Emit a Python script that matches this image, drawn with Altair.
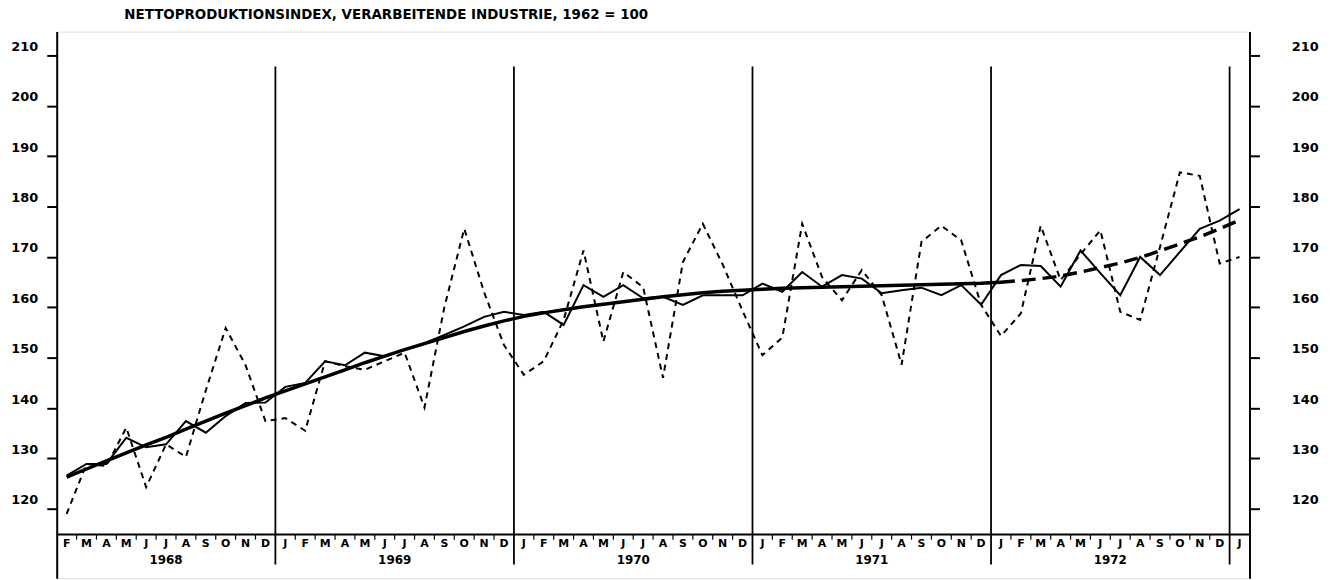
import altair as alt
import pandas as pd

# ---------------- data ----------------
TITLE = "NETTOPRODUKTIONSINDEX, VERARBEITENDE INDUSTRIE, 1962 = 100"
month_letters = (["F", "M", "A", "M", "J", "J", "A", "S", "O", "N", "D"]
                 + ["J", "F", "M", "A", "M", "J", "J", "A", "S", "O", "N", "D"] * 4
                 + ["J"])
years = ["1968", "1969", "1970", "1971", "1972"]
year_first = [0, 11, 23, 35, 47]
year_last = [10, 22, 34, 46, 58]
year_dividers = [10.5, 22.5, 34.5, 46.5, 58.5]
y_ticks = [120, 130, 140, 150, 160, 170, 180, 190, 200, 210]

# Feb 1968 ... Jan 1973 (60 months)
raw = [119.0, 128.9, 128.5, 136.1, 124.3, 132.8, 130.3, 143.5, 155.9, 148.5, 137.4,
       138.0, 135.5, 149.3, 148.3, 147.6, 149.3, 151.0, 140.1, 160.0, 175.6, 163.0, 152.5,
       146.6, 149.3, 157.5, 171.3, 153.2, 167.0, 164.0, 146.0, 169.0, 176.6, 168.5, 159.3,
       150.5, 154.0, 176.6, 166.0, 161.4, 167.4, 162.4, 148.6, 173.0, 176.2, 173.3, 160.5,
       154.3, 158.8, 176.2, 165.4, 170.5, 175.3, 159.1, 157.5, 172.0, 186.8, 186.1, 168.7,
       170.0]
adjusted = [126.6, 128.9, 128.9, 134.1, 132.2, 132.8, 137.4, 135.1, 138.4, 141.0, 141.1,
            144.2, 145.0, 149.3, 148.5, 151.0, 150.3, 151.6, 152.9, 154.5, 156.2, 158.1, 159.1,
            158.5, 159.1, 156.5, 164.4, 162.1, 164.4, 161.8, 162.1, 160.5, 162.4, 162.4, 162.4,
            164.7, 163.1, 167.0, 164.1, 166.4, 165.7, 162.8, 163.4, 163.9, 162.4, 164.4, 160.5,
            166.4, 168.4, 168.2, 164.1, 171.3, 166.8, 162.4, 170.0, 166.4, 171.0, 175.6, 177.2,
            179.5]
trend = [126.3, 127.9, 129.5, 131.1, 132.7, 134.2, 135.8, 137.4, 139.0, 140.5, 142.0,
         143.4, 144.8, 146.2, 147.6, 149.0, 150.3, 151.6, 152.8, 154.0, 155.2, 156.3, 157.3,
         158.2, 158.9, 159.5, 160.1, 160.6, 161.1, 161.6, 162.1, 162.5, 162.9, 163.2, 163.4,
         163.6, 163.8, 163.9, 164.0, 164.1, 164.2, 164.3, 164.4, 164.5, 164.6, 164.7, 164.8,
         165.0, 165.3, 165.7, 166.2, 167.0, 167.9, 168.8, 169.9, 171.2, 172.6, 174.0, 175.6,
         177.3]
TREND_SPLIT = 47  # trend solid up to Jan 1972, dashed projection afterwards

# ---------------- layout constants ----------------
Y_MIN, Y_MAX = 106.2, 214.75
AXIS_V = 114.87      # level of the month strip line
MONTH_V = 113.1
YEAR_V = 109.9
DIV_TOP, DIV_BOT = 207.8, 108.95
FONT = "DejaVu Sans"

n = len(raw)
df_raw = pd.DataFrame({"t": list(range(n)), "v": raw})
df_adj = pd.DataFrame({"t": list(range(n)), "v": adjusted})
df_tr1 = pd.DataFrame({"t": list(range(TREND_SPLIT + 1)), "v": trend[:TREND_SPLIT + 1]})
df_tr2 = pd.DataFrame({"t": list(range(TREND_SPLIT, n)), "v": trend[TREND_SPLIT:]})
df_months = pd.DataFrame({"t": list(range(n)), "m": month_letters})
df_years = pd.DataFrame({"t": [(a + b) / 2 for a, b in zip(year_first, year_last)], "y": years})
df_div = pd.DataFrame({"t": year_dividers})
df_mt = pd.DataFrame({"t": [i - 0.5 for i in range(1, n) if (i - 0.5) not in year_dividers]})
df_strip = pd.DataFrame({"a": [-0.5], "b": [n - 0.5]})

xs = alt.Scale(domain=[-0.5, n - 0.5], nice=False, zero=False)
ys = alt.Scale(domain=[Y_MIN, Y_MAX], nice=False, zero=False)


def ax(orient, pad):
    return alt.Axis(orient=orient, values=y_ticks, tickSize=10, tickWidth=2, tickColor="black",
                    domainWidth=2, domainColor="black", labelPadding=pad, labelOffset=-9,
                    labelFont=FONT, labelFontWeight="bold", labelFontSize=13, labelColor="black",
                    grid=False, title=None, labelOverlap=False)


raw_layer = alt.Chart(df_raw).mark_line(color="black", strokeWidth=2, strokeDash=[6, 5]).encode(
    x=alt.X("t:Q", scale=xs, axis=None), y=alt.Y("v:Q", scale=ys, axis=ax("left", 9)))
adj_layer = alt.Chart(df_adj).mark_line(color="black", strokeWidth=2).encode(
    x=alt.X("t:Q", scale=xs, axis=None), y=alt.Y("v:Q", scale=ys, axis=ax("right", 32)))
tr1_layer = alt.Chart(df_tr1).mark_line(color="black", strokeWidth=3.5).encode(
    x=alt.X("t:Q", scale=xs, axis=None), y=alt.Y("v:Q", scale=ys, axis=None))
tr2_layer = alt.Chart(df_tr2).mark_line(color="black", strokeWidth=3.5, strokeDash=[14, 7]).encode(
    x=alt.X("t:Q", scale=xs, axis=None), y=alt.Y("v:Q", scale=ys, axis=None))

div_layer = alt.Chart(df_div).mark_rule(color="black", strokeWidth=1.8).encode(
    x=alt.X("t:Q", scale=xs, axis=None),
    y=alt.Y(datum=DIV_TOP, scale=ys, axis=None), y2=alt.datum(DIV_BOT))
strip_layer = alt.Chart(df_strip).mark_rule(color="black", strokeWidth=2).encode(
    x=alt.X("a:Q", scale=xs, axis=None), x2="b:Q",
    y=alt.Y(datum=AXIS_V, scale=ys, axis=None))
mt_layer = alt.Chart(df_mt).mark_rule(color="black", strokeWidth=1.2).encode(
    x=alt.X("t:Q", scale=xs, axis=None),
    y=alt.Y(datum=AXIS_V, scale=ys, axis=None), y2=alt.datum(AXIS_V - 1.0))
month_layer = alt.Chart(df_months).mark_text(font=FONT, fontWeight="bold", fontSize=11,
                                              color="black", baseline="middle").encode(
    x=alt.X("t:Q", scale=xs, axis=None),
    y=alt.Y(datum=MONTH_V, scale=ys, axis=None), text="m:N")
year_layer = alt.Chart(df_years).mark_text(font=FONT, fontWeight="bold", fontSize=12,
                                            color="black", baseline="middle").encode(
    x=alt.X("t:Q", scale=xs, axis=None),
    y=alt.Y(datum=YEAR_V, scale=ys, axis=None), text="y:N")

chart = alt.layer(
    raw_layer, adj_layer, tr1_layer, tr2_layer, div_layer, strip_layer, mt_layer,
    month_layer, year_layer
).resolve_scale(y="independent").properties(
    width=1200, height=550,
    autosize=alt.AutoSizeParams(type="none"),
    padding={"left": 49, "top": 22, "right": 80, "bottom": 0},
    title=alt.Title(TITLE, anchor="start", frame="group", dx=68, offset=10,
                    font=FONT, fontSize=13.5, fontWeight="bold", color="black"),
).configure_view(stroke=None).configure(background="white")

chart.save("out.html", embed_options={"renderer": "svg", "actions": False})
